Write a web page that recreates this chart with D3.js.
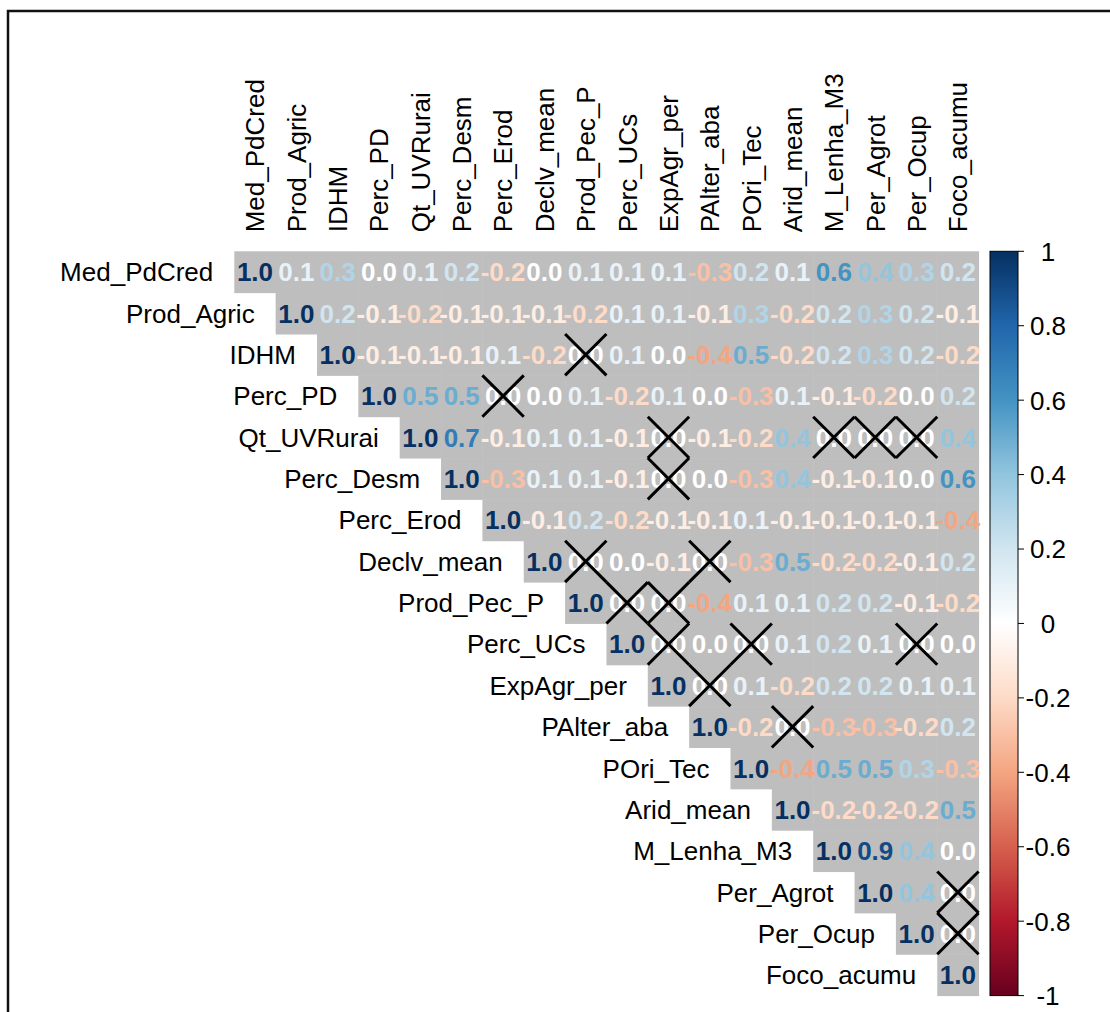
<!DOCTYPE html>
<html>
<head>
<meta charset="utf-8">
<script src="https://cdn.jsdelivr.net/npm/d3@7"></script>
<style>
  body { margin: 0; background: #fff; }
  text { font-family: "Liberation Sans", Arial, sans-serif; }
</style>
</head>
<body>
<div id="vis_corr"></div>
<script>
// variables, in matrix order
const variables = ["Med_PdCred", "Prod_Agric", "IDHM", "Perc_PD", "Qt_UVRurai", "Perc_Desm",
  "Perc_Erod", "Declv_mean", "Prod_Pec_P", "Perc_UCs", "ExpAgr_per", "PAlter_aba",
  "POri_Tec", "Arid_mean", "M_Lenha_M3", "Per_Agrot", "Per_Ocup", "Foco_acumu"];

// upper triangle, each row starts on the diagonal
const corrUpper = [
  [1.0, 0.1, 0.3, 0.0, 0.1, 0.2, -0.2, 0.0, 0.1, 0.1, 0.1, -0.3, 0.2, 0.1, 0.6, 0.4, 0.3, 0.2],
  [1.0, 0.2, -0.1, -0.2, -0.1, -0.1, -0.1, -0.2, 0.1, 0.1, -0.1, 0.3, -0.2, 0.2, 0.3, 0.2, -0.1],
  [1.0, -0.1, -0.1, -0.1, 0.1, -0.2, 0.0, 0.1, 0.0, -0.4, 0.5, -0.2, 0.2, 0.3, 0.2, -0.2],
  [1.0, 0.5, 0.5, 0.0, 0.0, 0.1, -0.2, 0.1, 0.0, -0.3, 0.1, -0.1, -0.2, 0.0, 0.2],
  [1.0, 0.7, -0.1, 0.1, 0.1, -0.1, 0.0, -0.1, -0.2, 0.4, 0.0, 0.0, 0.0, 0.4],
  [1.0, -0.3, 0.1, 0.1, -0.1, 0.0, 0.0, -0.3, 0.4, -0.1, -0.1, 0.0, 0.6],
  [1.0, -0.1, 0.2, -0.2, -0.1, -0.1, 0.1, -0.1, -0.1, -0.1, -0.1, -0.4],
  [1.0, 0.0, 0.0, -0.1, 0.0, -0.3, 0.5, -0.2, -0.2, -0.1, 0.2],
  [1.0, 0.0, 0.0, -0.4, 0.1, 0.1, 0.2, 0.2, -0.1, -0.2],
  [1.0, 0.0, 0.0, 0.0, 0.1, 0.2, 0.1, 0.0, 0.0],
  [1.0, 0.0, 0.1, -0.2, 0.2, 0.2, 0.1, 0.1],
  [1.0, -0.2, 0.0, -0.3, -0.3, -0.2, 0.2],
  [1.0, -0.4, 0.5, 0.5, 0.3, -0.3],
  [1.0, -0.2, -0.2, -0.2, 0.5],
  [1.0, 0.9, 0.4, 0.0],
  [1.0, 0.4, 0.0],
  [1.0, 0.0],
  [1.0]
];

// [row, col] pairs crossed out (not significant)
const insignificant = [[2, 8], [3, 6], [4, 10], [4, 14], [4, 15], [4, 16], [5, 10],
  [7, 8], [7, 11], [8, 9], [8, 10], [9, 10], [9, 12], [9, 16], [10, 11], [11, 13],
  [15, 17], [16, 17]];

const legendTicks = [1, 0.8, 0.6, 0.4, 0.2, 0, -0.2, -0.4, -0.6, -0.8, -1];
const paletteColors = ["#67001F", "#B2182B", "#D6604D", "#F4A582", "#FDDBC7", "#FFFFFF",
  "#D1E5F0", "#92C5DE", "#4393C3", "#2166AC", "#053061"];

const SVG = d3.select("#vis_corr").append("svg").attr("width", 1110).attr("height", 1012);

// outer frame
SVG.append("rect").attr("x", 8).attr("y", 11).attr("width", 1200).attr("height", 1100)
  .attr("fill", "none").attr("stroke", "#111").attr("stroke-width", 2.5);

const n = variables.length;
const cell = 41.35;
const gridLeft = 234.3, gridTop = 251.3;

const x = d3.scaleBand().domain(d3.range(n)).range([gridLeft, gridLeft + cell * n]);
const y = d3.scaleBand().domain(d3.range(n)).range([gridTop, gridTop + cell * n]);
const color = d3.scaleLinear()
  .domain(d3.range(paletteColors.length).map(i => -1 + 2 * i / (paletteColors.length - 1)))
  .range(paletteColors);

// flatten the triangle
const cells = [];
corrUpper.forEach((row, i) => row.forEach((v, k) => cells.push({ r: i, c: i + k, v: v })));

// gray background
SVG.selectAll("bgCells").data(cells).enter().append("rect")
  .attr("x", d => x(d.c))
  .attr("y", d => y(d.r))
  .attr("width", x.bandwidth() + 0.5)
  .attr("height", y.bandwidth() + 0.5)
  .attr("fill", "#BEBEBE");

// numbers
SVG.selectAll("numbers").data(cells).enter().append("text")
  .attr("x", d => x(d.c) + cell / 2)
  .attr("y", d => y(d.r) + cell / 2)
  .attr("dy", "0.36em")
  .attr("text-anchor", "middle")
  .attr("font-size", 26)
  .attr("font-weight", "bold")
  .attr("fill", d => color(d.v))
  .text(d => d3.format(".1f")(d.v).replace("−", "-"));

// crosses
const crossG = SVG.append("g").attr("stroke", "#000").attr("stroke-width", 3);
insignificant.forEach(([r, c]) => {
  const x0 = x(c), y0 = y(r);
  crossG.append("line").attr("x1", x0).attr("y1", y0).attr("x2", x0 + cell).attr("y2", y0 + cell);
  crossG.append("line").attr("x1", x0 + cell).attr("y1", y0).attr("x2", x0).attr("y2", y0 + cell);
});

// row labels
SVG.selectAll("rowLabels").data(variables).enter().append("text")
  .attr("x", (d, i) => x(i) - 21)
  .attr("y", (d, i) => y(i) + cell / 2)
  .attr("dy", "0.36em")
  .attr("text-anchor", "end")
  .attr("font-size", 26)
  .attr("fill", "#000")
  .text(d => d);

// column labels
SVG.selectAll("colLabels").data(variables).enter().append("text")
  .attr("transform", (d, i) => "translate(" + (x(i) + cell / 2) + "," + (gridTop - 19) + ") rotate(-90)")
  .attr("dy", "0.36em")
  .attr("text-anchor", "start")
  .attr("font-size", 26)
  .attr("fill", "#000")
  .text(d => d);

// colour legend
const barX = 990, barW = 28;
const ly = d3.scaleLinear().domain([1, -1]).range([gridTop, gridTop + cell * n]);
const grad = SVG.append("defs").append("linearGradient").attr("id", "corrGrad")
  .attr("x1", 0).attr("y1", 1).attr("x2", 0).attr("y2", 0);
paletteColors.forEach((c, i) => {
  grad.append("stop").attr("offset", i / (paletteColors.length - 1)).attr("stop-color", c);
});
SVG.append("rect").attr("x", barX).attr("y", ly(1)).attr("width", barW)
  .attr("height", ly(-1) - ly(1)).attr("fill", "url(#corrGrad)")
  .attr("stroke", "#000").attr("stroke-width", 1);

SVG.selectAll("legendTicks").data(legendTicks).enter().append("line")
  .attr("x1", barX + barW).attr("x2", barX + barW + 6)
  .attr("y1", d => ly(d)).attr("y2", d => ly(d))
  .attr("stroke", "#000");

SVG.selectAll("legendLabels").data(legendTicks).enter().append("text")
  .attr("x", 1048)
  .attr("y", d => ly(d))
  .attr("dy", "0.36em")
  .attr("text-anchor", "middle")
  .attr("font-size", 26)
  .attr("fill", "#000")
  .text(d => String(d));
</script>
</body>
</html>
